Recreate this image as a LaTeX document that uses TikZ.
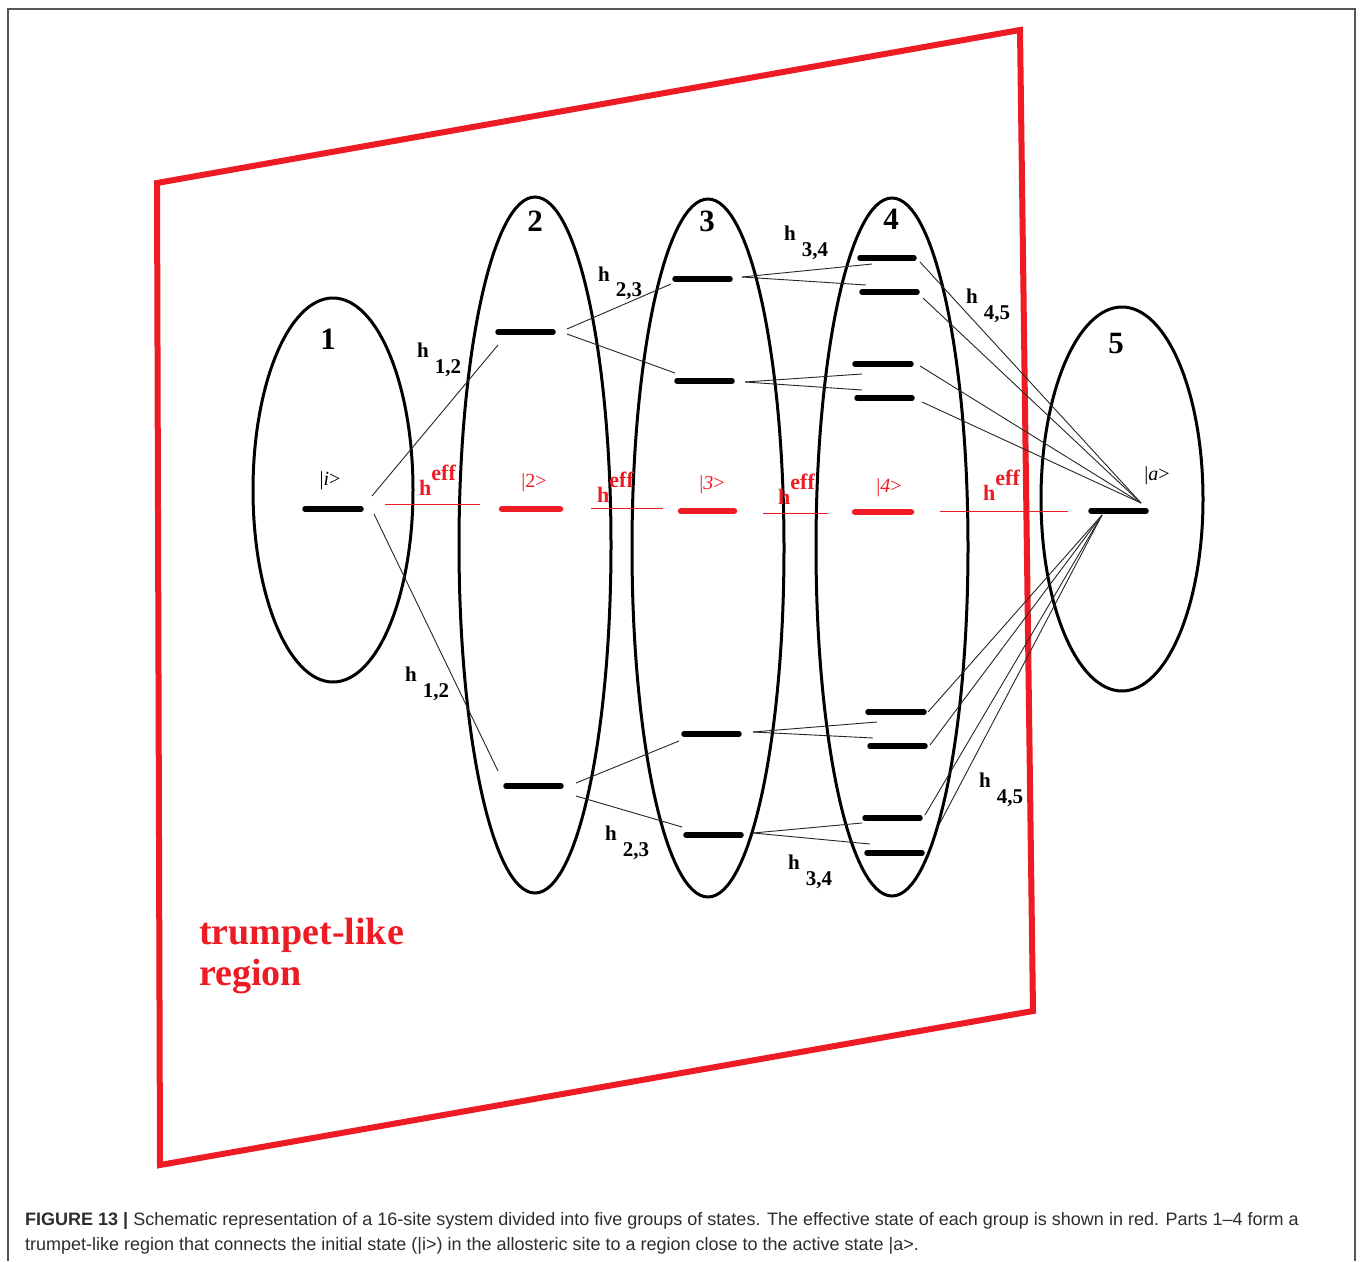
\documentclass[tikz,border=0pt]{standalone}
\usepackage{fontspec}
\setmainfont{Liberation Serif}
\setsansfont{Liberation Sans}
\definecolor{rd}{RGB}{237,28,36}
\definecolor{frame}{RGB}{85,85,85}
\definecolor{captxt}{RGB}{45,45,45}
\begin{document}
\begin{tikzpicture}[x=1pt,y=-1pt,
  ell/.style={draw=black,line width=3pt},
  bar/.style={draw=black,line width=5.5pt,line cap=round},
  rbar/.style={draw=rd,line width=6.5pt,line cap=round},
  rthin/.style={draw=rd,line width=1pt},
  conn/.style={draw=black!85,line width=0.9pt},
  num/.style={font=\fontsize{31}{31}\selectfont\bfseries,inner sep=0pt},
  hlab/.style={font=\fontsize{21}{21}\selectfont\bfseries,inner sep=0pt,anchor=base west},
  heff/.style={font=\fontsize{22}{22}\selectfont\bfseries,text=rd,inner sep=0pt,anchor=base west},
  ket/.style={font=\fontsize{20}{20}\selectfont,inner sep=0pt},
  rket/.style={font=\fontsize{20}{20}\selectfont,text=rd,inner sep=0pt},
]
\useasboundingbox (0,0) rectangle (1360,1261);
\fill[white] (0,0) rectangle (1360,1261);
% outer frame
\draw[frame,line width=1.6pt] (8,1261) -- (8,9) -- (1355,9) -- (1355,1261);

% trumpet-like region
\draw[rd,line width=6pt,line join=miter] (157,183) -- (1020,30) -- (1033,1011) -- (160,1165) -- cycle;
\node[font=\fontsize{38}{41}\selectfont\bfseries,text=rd,align=left,anchor=base west,inner sep=0pt] (trl) at (199,985) {trumpet-like\\region};

% ellipses
\draw[ell] (333,490) ellipse [x radius=80,y radius=192];
\draw[ell] (535,545) ellipse [x radius=76,y radius=348];
\draw[ell] (708,548) ellipse [x radius=76,y radius=349];
\draw[ell] (892,547) ellipse [x radius=76,y radius=349];
\draw[ell] (1122,499) ellipse [x radius=81,y radius=192];

% group numbers
\node[num] (n1) at (328,339) {1};
\node[num] (n2) at (535,221) {2};
\node[num] (n3) at (707,221) {3};
\node[num] (n4) at (891,219) {4};
\node[num] (n5) at (1116,343) {5};

% red effective line pieces
\draw[rthin] (385,504) -- (480,504);
\draw[rthin] (591,508) -- (663,508);
\draw[rthin] (763,513) -- (828,513);
\draw[rthin] (940,511) -- (1068,511);
\draw[rbar] (502,509) -- (560,509);
\draw[rbar] (681,511) -- (734,511);
\draw[rbar] (855,512) -- (911,512);

% black levels
\draw[bar] (305,509) -- (361,509);
\draw[bar] (498,332) -- (553,332);
\draw[bar] (506,786) -- (561,786);
\draw[bar] (675,279) -- (730,279);
\draw[bar] (677,381) -- (732,381);
\draw[bar] (684,734) -- (739,734);
\draw[bar] (686,835) -- (741,835);
\draw[bar] (860,258) -- (914,258);
\draw[bar] (862,292) -- (917,292);
\draw[bar] (855,364) -- (911,364);
\draw[bar] (857,398) -- (912,398);
\draw[bar] (868,712) -- (924,712);
\draw[bar] (870,746) -- (925,746);
\draw[bar] (865,818) -- (920,818);
\draw[bar] (867,853) -- (922,853);
\draw[bar] (1091,511) -- (1146,511);

% connector end points
\coordinate (i1) at (372,496);
\coordinate (i2) at (374,514);
\coordinate (b2t) at (498,345);
\coordinate (b2b) at (498,771);
\coordinate (s2tr) at (567,329);
\coordinate (s2tr2) at (567,334);
\coordinate (s3a) at (671,284);
\coordinate (s3b) at (675,373);
\coordinate (s2br) at (576,783);
\coordinate (s2br2) at (576,796);
\coordinate (s3c) at (679,741);
\coordinate (s3d) at (682,827);
\coordinate (s3ar) at (742,277);
\coordinate (s3br) at (745,382);
\coordinate (s3cr) at (753,732);
\coordinate (s3dr) at (753,833);
\coordinate (q1) at (872,264);
\coordinate (q2) at (866,285);
\coordinate (q3) at (862,374);
\coordinate (q4) at (862,390);
\coordinate (q5) at (877,722);
\coordinate (q6) at (873,738);
\coordinate (q7) at (862,823);
\coordinate (q8) at (870,844);
\coordinate (r1) at (920,262);
\coordinate (r2) at (923,298);
\coordinate (r3) at (920,366);
\coordinate (r4) at (922,402);
\coordinate (r5) at (928,712);
\coordinate (r6) at (930,745);
\coordinate (r7) at (925,815);
\coordinate (r8) at (940,823);
\coordinate (at) at (1141,503);
\coordinate (ab) at (1102,515);

\draw[conn] (i1) -- (b2t);
\draw[conn] (i2) -- (b2b);
\draw[conn] (s2tr) -- (s3a);
\draw[conn] (s2tr2) -- (s3b);
\draw[conn] (s2br) -- (s3c);
\draw[conn] (s2br2) -- (s3d);
\draw[conn] (s3ar) -- (q1);
\draw[conn] (s3ar) -- (q2);
\draw[conn] (s3br) -- (q3);
\draw[conn] (s3br) -- (q4);
\draw[conn] (s3cr) -- (q5);
\draw[conn] (s3cr) -- (q6);
\draw[conn] (s3dr) -- (q7);
\draw[conn] (s3dr) -- (q8);
\foreach \r in {r1,r2,r3,r4} \draw[conn] (\r) -- (at);
\foreach \r in {r5,r6,r7,r8} \draw[conn] (\r) -- (ab);

% coupling labels
\node[hlab] (h12t) at (417,357) {h\hspace{6pt}\raisebox{-16pt}{1,2}};
\node[hlab] (h12b) at (405,681) {h\hspace{6pt}\raisebox{-16pt}{1,2}};
\node[hlab] (h23t) at (598,281) {h\hspace{6pt}\raisebox{-15pt}{2,3}};
\node[hlab] (h23b) at (605,840) {h\hspace{6pt}\raisebox{-16pt}{2,3}};
\node[hlab] (h34t) at (784,240) {h\hspace{6pt}\raisebox{-16pt}{3,4}};
\node[hlab] (h34b) at (788,869) {h\hspace{6pt}\raisebox{-16pt}{3,4}};
\node[hlab] (h45t) at (966,303) {h\hspace{6pt}\raisebox{-16pt}{4,5}};
\node[hlab] (h45b) at (979,787) {h\hspace{6pt}\raisebox{-16pt}{4,5}};

% effective couplings
\node[heff] (e1) at (419,495) {h\raisebox{15pt}{eff}};
\node[heff] (e2) at (597,502) {h\raisebox{15pt}{eff}};
\node[heff] (e3) at (778,504) {h\raisebox{15pt}{eff}};
\node[heff] (e4) at (983,500) {h\raisebox{15pt}{eff}};

% state labels
\node[ket] (ki) at (330,481) {|\textit{i}>};
\node[ket] (ka) at (1157,476) {|\textit{a}>};
\node[rket] (k2) at (534,483) {|2>};
\node[rket] (k3) at (712,485) {|\textit{3}>};
\node[rket] (k4) at (889,488) {|\textit{4}>};

% caption
\node[anchor=base west,inner sep=0pt,text=captxt,font=\sffamily\fontsize{18}{25}\selectfont,align=left] (cap) at (25,1250)
 {\textbf{FIGURE 13 |} Schematic representation of a 16-site system divided into five groups of states. The effective state of each group is shown in red. Parts 1--4 form a\\
 trumpet-like region that connects the initial state (|i>) in the allosteric site to a region close to the active state |a>.};
\end{tikzpicture}
\end{document}
